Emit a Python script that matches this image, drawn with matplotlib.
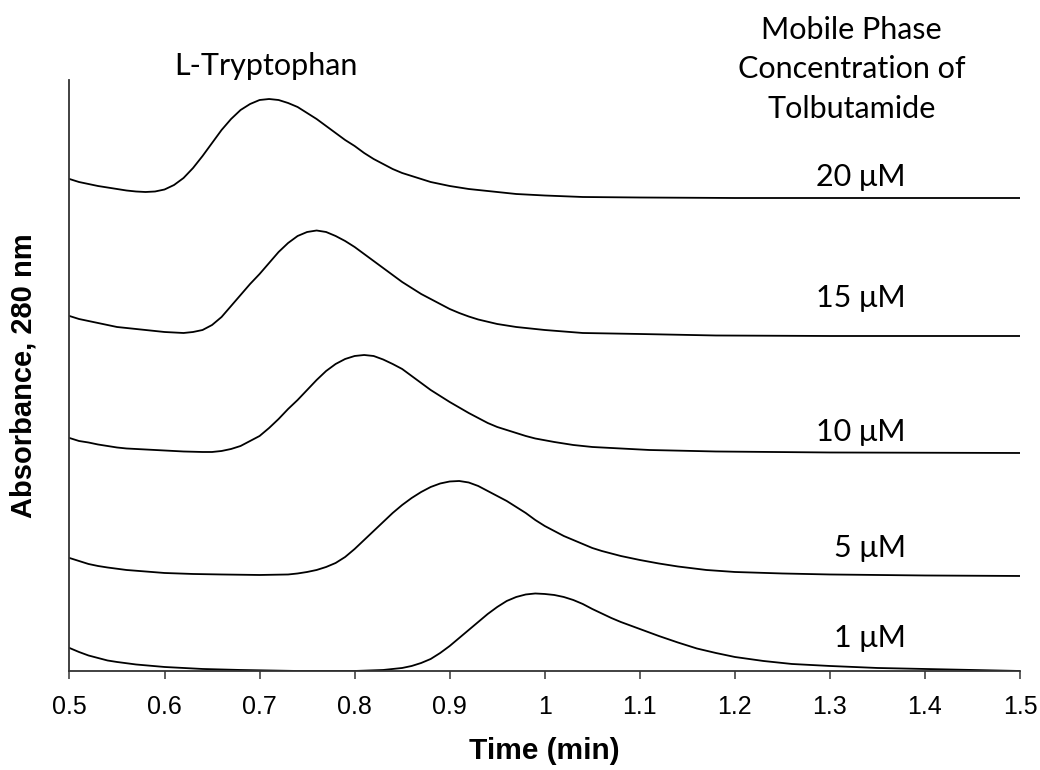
import matplotlib
matplotlib.use("Agg")
import matplotlib.pyplot as plt

conc_labels = ["20 μM", "15 μM", "10 μM", "5 μM", "1 μM"]

t_20 = [0.50, 0.51, 0.52, 0.53, 0.54, 0.55, 0.56, 0.57, 0.58, 0.59, 0.60, 0.61, 0.62, 0.63, 0.64,
        0.65, 0.66, 0.67, 0.68, 0.69, 0.70, 0.71, 0.72, 0.73, 0.74, 0.75, 0.76, 0.77, 0.78, 0.79,
        0.80, 0.81, 0.82, 0.83, 0.84, 0.85, 0.86, 0.87, 0.88, 0.90, 0.92, 0.94, 0.97, 1.00, 1.04,
        1.10, 1.20, 1.50]
a_20 = [4.92, 4.89, 4.87, 4.85, 4.835, 4.82, 4.805, 4.795, 4.79, 4.795, 4.815, 4.86, 4.93, 5.03, 5.15,
        5.28, 5.41, 5.52, 5.61, 5.67, 5.71, 5.72, 5.71, 5.68, 5.64, 5.58, 5.52, 5.45, 5.38, 5.31,
        5.25, 5.18, 5.12, 5.07, 5.02, 4.98, 4.95, 4.92, 4.89, 4.85, 4.82, 4.80, 4.77, 4.755, 4.74,
        4.735, 4.73, 4.73]

t_15 = [0.50, 0.51, 0.52, 0.53, 0.54, 0.55, 0.56, 0.57, 0.58, 0.59, 0.60, 0.61, 0.62, 0.63, 0.64,
        0.65, 0.66, 0.67, 0.68, 0.69, 0.70, 0.71, 0.72, 0.73, 0.74, 0.75, 0.76, 0.77, 0.78, 0.79,
        0.80, 0.81, 0.82, 0.83, 0.84, 0.85, 0.86, 0.87, 0.88, 0.89, 0.90, 0.91, 0.92, 0.93, 0.95,
        0.97, 1.00, 1.04, 1.10, 1.18, 1.30, 1.50]
a_15 = [3.55, 3.52, 3.50, 3.48, 3.46, 3.44, 3.43, 3.42, 3.41, 3.40, 3.39, 3.385, 3.38, 3.39, 3.41,
        3.46, 3.54, 3.65, 3.76, 3.87, 3.97, 4.08, 4.19, 4.28, 4.35, 4.39, 4.405, 4.39, 4.35, 4.30,
        4.24, 4.17, 4.10, 4.03, 3.96, 3.89, 3.83, 3.77, 3.72, 3.67, 3.62, 3.58, 3.545, 3.515, 3.47,
        3.44, 3.41, 3.38, 3.37, 3.355, 3.35, 3.35]

t_10 = [0.50, 0.51, 0.52, 0.53, 0.54, 0.55, 0.56, 0.58, 0.60, 0.62, 0.64, 0.65, 0.66, 0.67, 0.68,
        0.69, 0.70, 0.71, 0.72, 0.73, 0.74, 0.75, 0.76, 0.77, 0.78, 0.79, 0.80, 0.81, 0.82, 0.83,
        0.84, 0.85, 0.86, 0.87, 0.88, 0.89, 0.90, 0.91, 0.92, 0.93, 0.94, 0.95, 0.96, 0.97, 0.98,
        0.99, 1.01, 1.03, 1.05, 1.08, 1.11, 1.18, 1.30, 1.50]
a_10 = [2.33, 2.30, 2.285, 2.265, 2.25, 2.235, 2.225, 2.215, 2.205, 2.195, 2.19, 2.19, 2.20, 2.22, 2.25,
        2.30, 2.35, 2.43, 2.52, 2.62, 2.71, 2.81, 2.91, 3.00, 3.07, 3.12, 3.15, 3.16, 3.15, 3.115,
        3.07, 3.02, 2.95, 2.88, 2.81, 2.75, 2.69, 2.635, 2.58, 2.53, 2.48, 2.44, 2.41, 2.38, 2.35,
        2.325, 2.29, 2.26, 2.24, 2.225, 2.21, 2.195, 2.185, 2.18]

t_5 = [0.50, 0.51, 0.52, 0.53, 0.54, 0.56, 0.58, 0.60, 0.63, 0.66, 0.70, 0.73, 0.74, 0.75, 0.76,
       0.77, 0.78, 0.79, 0.80, 0.81, 0.82, 0.83, 0.84, 0.85, 0.86, 0.87, 0.88, 0.89, 0.90, 0.91,
       0.92, 0.93, 0.94, 0.95, 0.96, 0.97, 0.98, 0.99, 1.00, 1.01, 1.02, 1.03, 1.04, 1.05, 1.06,
       1.08, 1.10, 1.12, 1.14, 1.17, 1.20, 1.25, 1.30, 1.40, 1.50]
a_5 = [1.13, 1.10, 1.07, 1.05, 1.035, 1.01, 0.995, 0.98, 0.97, 0.965, 0.96, 0.965, 0.975, 0.99, 1.01,
       1.04, 1.08, 1.14, 1.22, 1.31, 1.40, 1.49, 1.58, 1.66, 1.73, 1.79, 1.84, 1.875, 1.895, 1.90,
       1.885, 1.85, 1.80, 1.75, 1.70, 1.64, 1.58, 1.51, 1.45, 1.40, 1.35, 1.31, 1.27, 1.23, 1.20,
       1.15, 1.11, 1.075, 1.045, 1.01, 0.99, 0.975, 0.965, 0.955, 0.95]

t_1 = [0.50, 0.51, 0.52, 0.53, 0.54, 0.55, 0.57, 0.60, 0.64, 0.68, 0.74, 0.80, 0.83, 0.85, 0.86,
       0.87, 0.88, 0.89, 0.90, 0.91, 0.92, 0.93, 0.94, 0.95, 0.96, 0.97, 0.98, 0.99, 1.00, 1.01,
       1.02, 1.03, 1.04, 1.05, 1.06, 1.07, 1.08, 1.09, 1.10, 1.12, 1.14, 1.16, 1.18, 1.20, 1.23,
       1.26, 1.30, 1.35, 1.40, 1.45, 1.50]
a_1 = [0.23, 0.19, 0.155, 0.13, 0.105, 0.09, 0.065, 0.04, 0.02, 0.01, 0.00, 0.00, 0.01, 0.03, 0.05,
       0.08, 0.12, 0.18, 0.25, 0.33, 0.41, 0.49, 0.57, 0.64, 0.70, 0.74, 0.765, 0.775, 0.77, 0.76,
       0.74, 0.71, 0.67, 0.62, 0.575, 0.53, 0.49, 0.455, 0.42, 0.35, 0.285, 0.225, 0.18, 0.14, 0.10,
       0.07, 0.05, 0.03, 0.02, 0.01, 0.00]

# posição vertical dos rótulos de concentração (mesma unidade da absorbância)
label_y = [4.94, 3.73, 2.39, 1.23, 0.33]

x_ticks = [0.5, 0.6, 0.7, 0.8, 0.9, 1.0, 1.1, 1.2, 1.3, 1.4, 1.5]
x_ticklabels = ["0.5", "0.6", "0.7", "0.8", "0.9", "1", "1.1", "1.2", "1.3", "1.4", "1.5"]

#=============== FIGURA ===============#
fig = plt.figure(figsize=(10.4, 7.7), dpi=100)
ax = fig.add_axes([0.0668, 0.1286, 0.9140, 0.7675])

tracos = [(t_20, a_20), (t_15, a_15), (t_10, a_10), (t_5, a_5), (t_1, a_1)]
for t, a in tracos:
    ax.plot(t, a, color="black", lw=1.3, solid_joinstyle="round")

fonte_texto = "Lato"
for rotulo, y in zip(conc_labels, label_y):
    ax.text(1.38, y, rotulo, ha="right", va="center", fontsize=22, family=fonte_texto)

ax.text(0.707, 6.05, "L-Tryptophan", ha="center", va="center", fontsize=22,
        family=fonte_texto, clip_on=False)
ax.text(1.3226, 6.02, "Mobile Phase\nConcentration of\nTolbutamide", ha="center", va="center",
        fontsize=22, family=fonte_texto, linespacing=1.5, clip_on=False)

# eixos
ax.set_xlim(0.5, 1.5)
ax.set_ylim(0, 5.91)
ax.set_xticks(x_ticks)
ax.set_xticklabels(x_ticklabels, fontsize=18, family="Liberation Sans")
ax.set_yticks([])
ax.tick_params(axis="x", direction="out", length=6, width=1.2, color="#444444", pad=11)
for lado in ["top", "right"]:
    ax.spines[lado].set_visible(False)
for lado in ["left", "bottom"]:
    ax.spines[lado].set_linewidth(1.3)
    ax.spines[lado].set_color("#333333")

ax.set_xlabel("Time (min)", fontsize=21.5, fontweight="bold", family="Liberation Sans", labelpad=13)
ax.set_ylabel("Absorbance, 280 nm", fontsize=21, fontweight="bold", family="Liberation Sans",
              labelpad=23)

fig.savefig("out.png", dpi=100)
